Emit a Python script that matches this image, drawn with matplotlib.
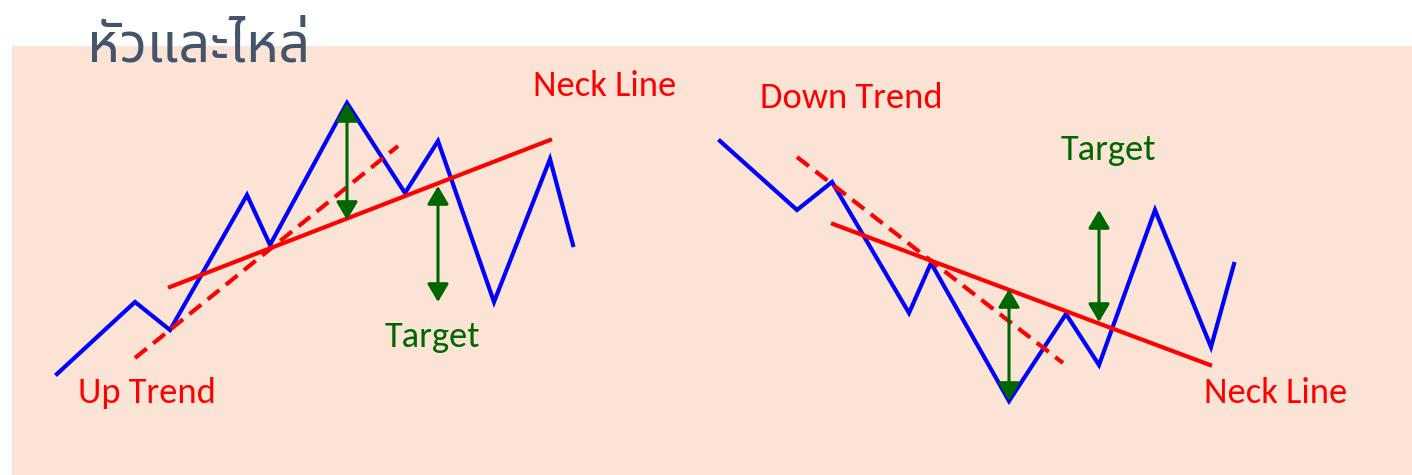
import matplotlib
matplotlib.use('Agg')
import matplotlib.pyplot as plt
from matplotlib.patches import Rectangle, FancyArrowPatch

# pixel-style coordinates (y grows downward)
up_x = [57, 135, 170, 247, 270, 347, 405, 438, 494, 550, 573]
up_y = [374, 302, 330, 195, 245, 103, 193, 141, 302, 159, 245]
up_neck_x = [170, 550]
up_neck_y = [287, 140]
up_trend_x = [135, 398]
up_trend_y = [358, 146]
up_arrows = [(347, 103, 220), (438, 186, 302)]

dn_x = [720, 797, 832, 909, 931, 1009, 1066, 1099, 1155, 1211, 1234]
dn_y = [141, 210, 182, 313, 263, 401, 314, 365, 210, 347, 264]
dn_neck_x = [833, 1210]
dn_neck_y = [224, 365]
dn_trend_x = [797, 1063]
dn_trend_y = [157, 363]
dn_arrows = [(1009, 289, 401), (1099, 210, 322)]

title = 'หัวและไหล่'
labels = [('Neck Line', 533, 96, 'red'), ('Up Trend', 78, 403, 'red'),
          ('Target', 385, 347, 'green'), ('Down Trend', 760, 108, 'red'),
          ('Target', 1061, 160, 'green'), ('Neck Line', 1204, 403, 'red')]

blue = '#0000FF'
red = '#FF0000'
green = '#006600'

fig = plt.figure(figsize=(14.12, 4.75), dpi=100)
ax = fig.add_axes([0, 0, 1, 1])
ax.set_xlim(0, 1412)
ax.set_ylim(475, 0)
ax.axis('off')

ax.add_patch(Rectangle((12, 46), 1400, 429, facecolor='#FBE4D6', edgecolor='none', zorder=0))

for xs, ys in [(up_x, up_y), (dn_x, dn_y)]:
    ax.plot(xs, ys, color=blue, lw=3, zorder=2, solid_joinstyle='miter')
for xs, ys in [(up_neck_x, up_neck_y), (dn_neck_x, dn_neck_y)]:
    ax.plot(xs, ys, color=red, lw=3, zorder=3)
for xs, ys in [(up_trend_x, up_trend_y), (dn_trend_x, dn_trend_y)]:
    ax.plot(xs, ys, color=red, lw=3, zorder=3, dashes=(3.6, 2.0))

for x, y0, y1 in up_arrows + dn_arrows:
    ar = FancyArrowPatch((x, y0), (x, y1), arrowstyle='<|-|>,head_length=11,head_width=6.5',
                         mutation_scale=1, color=green, lw=2.2, shrinkA=0, shrinkB=0, zorder=4)
    ax.add_patch(ar)

for s, x, y, c in labels:
    ax.text(x, y, s, color=red if c == 'red' else green, fontsize=26.3,
            family=['Carlito', 'DejaVu Sans'], ha='left', va='baseline', zorder=5)

ax.text(87, 62, title, color='#44546A', fontsize=40, stretch='condensed',
        family=['Noto Sans Thai', 'DejaVu Sans'], ha='left', va='baseline', zorder=5)

fig.savefig('out.png', dpi=100)
